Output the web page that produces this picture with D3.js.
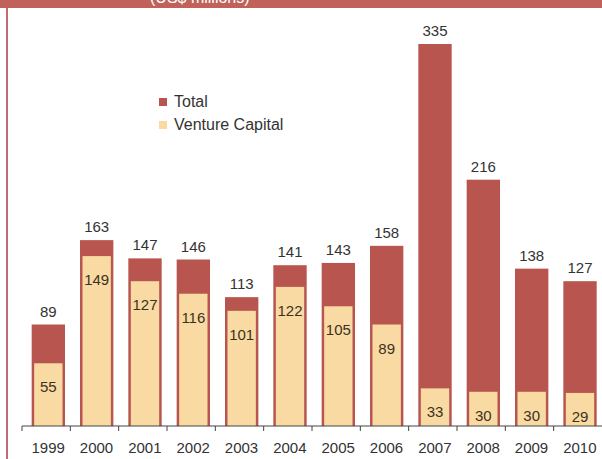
<!DOCTYPE html>
<html>
<head>
<meta charset="utf-8">
<script src="https://cdn.jsdelivr.net/npm/d3@7"></script>
<style>
  html, body { margin: 0; padding: 0; background: #fff; }
  svg { display: block; font-family: "Liberation Sans", Arial, sans-serif; }
</style>
</head>
<body>
<div id="chart"></div>
<script>
// data
const years = ['1999', '2000', '2001', '2002', '2003', '2004', '2005', '2006', '2007', '2008', '2009', '2010'];
const total = [89, 163, 147, 146, 113, 141, 143, 158, 335, 216, 138, 127];
const venture = [55, 149, 127, 116, 101, 122, 105, 89, 33, 30, 30, 29];

const W = 602, H = 459;
const RED = '#b8554f', YEL = '#f8daa2';

const svg = d3.select('#chart').append('svg')
  .attr('width', W).attr('height', H);

// header strip + left rule
svg.append('rect').attr('x', 0).attr('y', 0).attr('width', W).attr('height', 8).attr('fill', '#c0625a');
svg.append('text').attr('x', 150).attr('y', 3)
  .attr('fill', '#fff').attr('font-size', 16).text('(US$ millions)');
svg.append('rect').attr('x', 6).attr('y', 8).attr('width', 2).attr('height', H - 8).attr('fill', '#c26b72');

const x = d3.scaleBand().domain(years).range([22, 602]);
const y = d3.scaleLinear().domain([0, 335]).range([426, 44]);
const step = x.step();
const bx = d => x(d) + step * 0.2;
const bw = step * 0.69;

const rows = years.map((yr, i) => ({ yr, t: total[i], v: venture[i] }));

// total bars
svg.append('g').selectAll('rect').data(rows).join('rect')
  .attr('x', d => bx(d.yr)).attr('y', d => y(d.t))
  .attr('width', bw).attr('height', d => y(0) - y(d.t))
  .attr('fill', RED);

// venture capital part, inset inside the red
svg.append('g').selectAll('rect').data(rows).join('rect')
  .attr('x', d => bx(d.yr) + 2.5).attr('y', d => y(d.v))
  .attr('width', bw - 5).attr('height', d => y(0) - y(d.v))
  .attr('fill', YEL);

// labels
svg.append('g').selectAll('text').data(rows).join('text')
  .attr('x', d => bx(d.yr) + bw / 2).attr('y', d => y(d.t) - 8)
  .attr('text-anchor', 'middle').attr('font-size', 15).attr('fill', '#333')
  .text(d => d.t);

svg.append('g').selectAll('text').data(rows).join('text')
  .attr('x', d => bx(d.yr) + bw / 2).attr('y', d => y(d.v) + 29)
  .attr('text-anchor', 'middle').attr('font-size', 15).attr('fill', '#3b3222')
  .text(d => d.v);

// x axis: ticks at band edges, labels centred
const ax = svg.append('g');
ax.append('line').attr('x1', 22).attr('x2', 602).attr('y1', 426).attr('y2', 426)
  .attr('stroke', '#444').attr('stroke-width', 1.2);
ax.selectAll('line.tk').data(years).join('line').attr('class', 'tk')
  .attr('x1', d => x(d)).attr('x2', d => x(d)).attr('y1', 426).attr('y2', 431)
  .attr('stroke', '#444');
ax.selectAll('text').data(years).join('text')
  .attr('x', d => x(d) + step / 2 + 2).attr('y', 453)
  .attr('text-anchor', 'middle').attr('font-size', 15).attr('fill', '#333')
  .text(d => d);

// legend
const legend = [['Total', RED], ['Venture Capital', YEL]];
const lg = svg.append('g').attr('transform', 'translate(159,98)');
legend.forEach(([name, c], i) => {
  lg.append('rect').attr('x', 0).attr('y', i * 23).attr('width', 8).attr('height', 8).attr('fill', c);
  lg.append('text').attr('x', 15).attr('y', i * 23 + 9).attr('font-size', 16).attr('fill', '#333').text(name);
});
</script>
</body>
</html>
